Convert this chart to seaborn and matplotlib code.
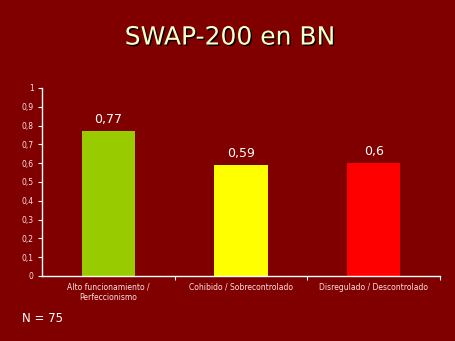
import matplotlib
matplotlib.use("Agg")
import matplotlib.pyplot as plt
import matplotlib.patheffects as pe
import seaborn as sns
import pandas as pd
import numpy as np
from matplotlib.ticker import FixedLocator, NullFormatter

categories = ["Alto funcionamiento /\nPerfeccionismo", "Cohibido / Sobrecontrolado", "Disregulado / Descontrolado"]
values = [0.77, 0.59, 0.60]
value_labels = ["0,77", "0,59", "0,6"]
colors = ["#99CC00", "#FFFF00", "#FF0000"]
yticks = [0, 0.1, 0.2, 0.3, 0.4, 0.5, 0.6, 0.7, 0.8, 0.9, 1]
ytick_labels = ["0", "0,1", "0,2", "0,3", "0,4", "0,5", "0,6", "0,7", "0,8", "0,9", "1"]

bg = "#800000"
sns.set_theme(style="white")
plt.rcParams['font.family'] = ['DejaVu Sans']

fig = plt.figure(figsize=(4.56, 3.41), dpi=100, facecolor=bg)
ax = fig.add_axes([0.092, 0.191, 0.873, 0.551], facecolor=bg)

df = pd.DataFrame({"cat": categories, "val": values})
sns.barplot(data=df, x="cat", y="val", hue="cat", palette=colors, width=0.4,
            ax=ax, legend=False, saturation=1, linewidth=0, edgecolor="none")

ax.set_xlim(-0.5, 2.5)
ax.set_ylim(0, 1)
ax.set_xlabel("")
ax.set_ylabel("")
ax.set_yticks(yticks)
ax.set_yticklabels(ytick_labels)
ax.tick_params(axis='y', colors='white', labelcolor='#FFE0E0', labelsize=5.5,
               length=3, width=0.8, direction='out', left=True, pad=3)
ax.set_xticks(range(len(categories)))
ax.set_xticklabels(categories, fontsize=5.5, color='#FFE0E0', linespacing=1.2)
ax.tick_params(axis='x', length=0, pad=5)
ax.xaxis.set_minor_locator(FixedLocator([0.5, 1.5, 2.5]))
ax.xaxis.set_minor_formatter(NullFormatter())
ax.tick_params(axis='x', which='minor', length=3, width=0.8, colors='white', direction='out', bottom=True)

for s in ["top", "right"]:
    ax.spines[s].set_visible(False)
for s in ["left", "bottom"]:
    ax.spines[s].set_color("white")
    ax.spines[s].set_linewidth(1)

for i, (v, lab) in enumerate(zip(values, value_labels)):
    ax.text(i, v + 0.025, lab, ha='center', va='bottom', color='white', fontsize=9)

fig.text(0.505, 0.89, "SWAP-200 en BN", ha='center', va='center', fontsize=18,
         color='#FFFFCC',
         path_effects=[pe.withSimplePatchShadow(offset=(1, -1), shadow_rgbFace='black', alpha=1)])
fig.text(0.048, 0.065, "N = 75", ha='left', va='center', fontsize=8.5, color='white')

fig.savefig("out.png", dpi=100, facecolor=bg)
